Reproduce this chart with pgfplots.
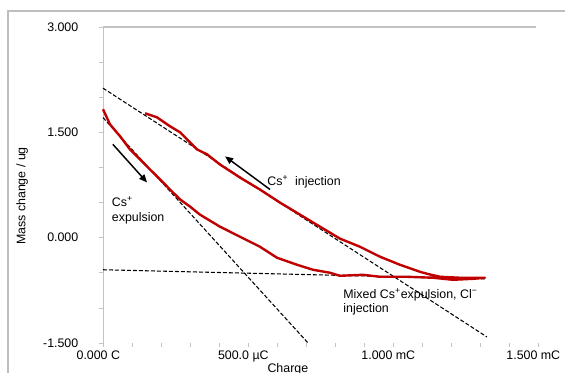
\documentclass[border=0pt]{standalone}
\usepackage{pgfplots}
\pgfplotsset{compat=1.18}
\usepackage{fontspec}
\setmainfont{Liberation Sans}
\usetikzlibrary{arrows.meta}
\definecolor{curvered}{RGB}{192,0,0}
\definecolor{axgray}{RGB}{195,195,195}
\definecolor{framegray}{RGB}{190,190,190}
\begin{document}
\begin{tikzpicture}[font=\fontsize{9.3}{11}\selectfont]
\fill[white] (0,0) rectangle (423.75pt,279.75pt);
\draw[framegray, line width=1.2pt] (6pt,0pt) -- (6pt,271.5pt) -- (423.75pt,271.5pt);
\begin{axis}[
 at={(77.25pt,22.5pt)}, anchor=south west, scale only axis,
 width=326.25pt, height=237pt,
 xmin=0, xmax=1.5, ymin=-1.5, ymax=3,
 clip=false,
 axis line style={draw=none},
 xtick={0,0.5,1,1.5}, xticklabels={0.000 C, 500.0 µC, 1.000 mC, 1.500 mC},
 minor xtick={0.1,0.2,0.3,0.4,0.6,0.7,0.8,0.9,1.1,1.2,1.3,1.4},
 ytick={-1.5,0,1.5,3}, yticklabels={-1.500,0.000,1.500,3.000},
 minor ytick={-1,-0.5,0.5,1,2,2.5},
 tick align=outside, tick pos=left,
 major tick length=3pt, minor tick length=3pt,
 tick style={axgray, line width=0.5pt},
 xticklabel style={xshift=-3.5pt, yshift=1pt},
 yticklabel style={xshift=-12pt},
 xlabel={Charge}, xlabel style={at={(rel axis cs:0.425,-0.084)}, anchor=center},
 ylabel={Mass change / ug}, ylabel style={at={(rel axis cs:-0.186,0.465)}, anchor=center},
]
\draw[axgray, line width=0.6pt] (rel axis cs:0,0) -- (rel axis cs:0,1);
\draw[axgray, line width=0.8pt] (rel axis cs:0,1) -- (rel axis cs:0.995,1);

% dashed fit lines
\addplot[black, line width=0.8pt, dash pattern=on 3pt off 1.5pt] coordinates {(0,1.71) (0.707,-1.5)};
\addplot[black, line width=0.8pt, dash pattern=on 3pt off 1.5pt] coordinates {(0,2.129) (1.324,-1.414)};
\addplot[black, line width=0.8pt, dash pattern=on 3pt off 1.5pt] coordinates {(0,-0.457) (1.317,-0.586)};

% measured mass change loop
\addplot[curvered, line width=1.8pt, line join=round] coordinates {
(0,1.829) (0.024,1.614) (0.059,1.443) (0.093,1.257) (0.128,1.114) (0.162,0.971)
(0.197,0.829) (0.231,0.686) (0.266,0.543) (0.300,0.443) (0.334,0.329) (0.403,0.157)
(0.472,0.014) (0.541,-0.129) (0.600,-0.286) (0.669,-0.386) (0.724,-0.457) (0.783,-0.500)
(0.817,-0.543) (0.897,-0.529) (0.955,-0.557) (1.048,-0.557) (1.138,-0.571) (1.207,-0.600)
(1.276,-0.586) (1.317,-0.571)
(1.231,-0.571) (1.162,-0.557) (1.117,-0.514) (1.093,-0.486) (1.024,-0.386) (0.955,-0.271)
(0.886,-0.129) (0.817,-0.014) (0.748,0.157) (0.679,0.329) (0.610,0.500) (0.541,0.686)
(0.472,0.857) (0.403,1.043) (0.359,1.186) (0.324,1.257) (0.300,1.357) (0.266,1.500)
(0.231,1.586) (0.186,1.714) (0.145,1.771)
};

% annotations
\draw[black, line width=1.1pt, -{Triangle[length=6pt,width=5pt]}] (axis cs:0.034,1.329) -- (axis cs:0.152,0.786);
\draw[black, line width=1.1pt, -{Triangle[length=6pt,width=5pt]}] (axis cs:0.576,0.686) -- (axis cs:0.421,1.157);
\node[anchor=west, inner sep=0pt] at (axis cs:0.566,0.8) {Cs\textsuperscript{+}\ \ injection};
\node[anchor=west, inner sep=0pt, align=left] at (axis cs:0.03,0.386) {Cs\textsuperscript{+}\\expulsion};
\node[anchor=west, inner sep=0pt, align=left] at (axis cs:0.828,-0.914) {Mixed Cs\textsuperscript{+}expulsion, Cl\textsuperscript{−}\\injection};
\end{axis}
\pgfresetboundingbox
\path[use as bounding box] (0,0) rectangle (423.75pt,279.75pt);
\end{tikzpicture}
\end{document}
